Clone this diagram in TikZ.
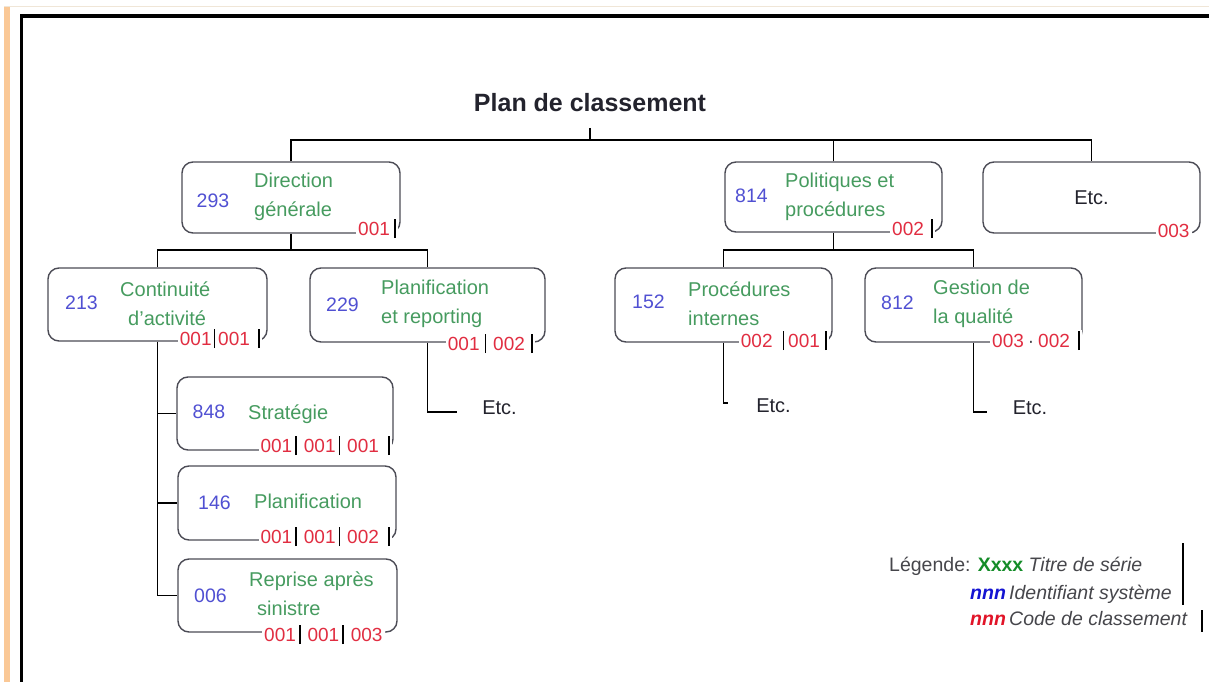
\documentclass[tikz,border=0pt]{standalone}
\usepackage{fontspec}
\setmainfont{Liberation Sans}

\definecolor{titregreen}{RGB}{70,155,95}
\definecolor{numblue}{RGB}{80,80,210}
\definecolor{codered}{RGB}{225,45,65}
\definecolor{boxgray}{RGB}{75,75,85}
\definecolor{textdark}{RGB}{35,35,45}
\definecolor{legray}{RGB}{70,70,75}
\definecolor{legreen}{RGB}{20,140,40}
\definecolor{leblue}{RGB}{20,20,210}
\definecolor{lered}{RGB}{225,20,40}
\definecolor{bandorange}{RGB}{250,200,150}
\definecolor{bandbeige}{RGB}{240,230,215}

\newcommand{\cbar}{{\color{black}\rule[-2.5pt]{1.6pt}{19pt}}}

\tikzset{
  titre/.style={text=textdark, anchor=base, font=\fontsize{25}{30}\selectfont\bfseries},
  serie/.style={draw=boxgray, line width=1.4pt, rounded corners=11pt, minimum width=218pt, minimum height=73pt, inner sep=0pt, text=textdark, font=\fontsize{20}{24}\selectfont},
  numero/.style={text=numblue, inner sep=0pt, font=\fontsize{19.5}{22}\selectfont},
  libelle/.style={text=titregreen, inner sep=0pt, anchor=west, align=left, font=\fontsize{20}{29}\selectfont},
  cote/.style={text=codered, fill=white, inner xsep=2pt, inner ysep=1pt, anchor=base east, font=\fontsize{19}{22}\selectfont},
  lien/.style={draw=black, line width=1.3pt},
  suite/.style={text=textdark, inner sep=0pt, font=\fontsize{20}{24}\selectfont},
  legende/.style={text=legray, inner sep=0pt, anchor=base west, font=\fontsize{19.5}{22}\selectfont}
}

\begin{document}
\begin{tikzpicture}[x=1pt,y=-1pt]
\useasboundingbox (0,0) rectangle (1209,682);
\draw[bandbeige, line width=1pt] (4,7) -- (1209,7);
\fill[bandorange] (4,7) rectangle (10,682);
\draw[line width=3.5pt] (1209,16) -- (21.5,16) -- (21.5,682);

\node[titre] (titre) at (590,112) {Plan de classement};
\coordinate (bus) at (590,140);
\coordinate (busg) at (291,250);
\coordinate (busd) at (833.5,250);

\node[serie, minimum height=71pt] (dg) at (291,197.5) {};
\node[serie, minimum width=217pt, minimum height=70pt] (pp) at (833.5,197) {};
\node[serie, minimum width=217pt, minimum height=71pt] (etc) at (1091.5,197.5) {Etc.};
\node[serie, minimum width=219pt] (ca) at (157.5,304.5) {};
\node[serie, minimum width=235pt, minimum height=74pt] (pr) at (427.5,305) {};
\node[serie, minimum width=217pt, minimum height=74pt] (pi) at (723.5,305) {};
\node[serie, minimum width=217pt, minimum height=74pt] (gq) at (973.5,305) {};
\node[serie, minimum width=216pt] (st) at (285,413.5) {};
\node[serie, minimum height=74pt] (pl) at (287,503) {};
\node[serie, minimum width=219pt] (rs) at (287.5,595.5) {};

\node[suite] (suite1) at (499.5,408) {Etc.};
\node[suite] (suite2) at (773.5,406) {Etc.};
\node[suite] (suite3) at (1030,407.5) {Etc.};

\draw[lien] ([yshift=-12pt]titre.south) -- (bus);
\draw[lien] (dg.north) |- (bus) -| (etc.north);
\draw[lien] (pp.north) -- (pp.north |- bus);
\draw[lien] (dg.south) -- (busg);
\draw[lien] (ca.north) |- (busg) -| (pr.north);
\draw[lien] (pp.south) -- (busd);
\draw[lien] (pi.north) |- (busd) -| (gq.north);
\draw[lien] (ca.south) |- (rs.west);
\draw[lien] (ca.south |- st.west) -- (st.west);
\draw[lien] (ca.south |- pl.west) -- (pl.west);
\draw[lien] (pr.south) |- ([xshift=-25pt,yshift=-4pt]suite1.west);
\draw[lien] (pi.south) |- ([xshift=-28pt,yshift=3pt]suite2.west);
\draw[lien] (gq.south) |- ([xshift=-26pt,yshift=-4.5pt]suite3.west);

\node[numero] (dgn) at (213,201) {293};
\node[numero] (ppn) at (751.5,196) {814};
\node[numero] (can) at (81.5,303) {213};
\node[numero] (prn) at (342.5,305) {229};
\node[numero] (pin) at (648.5,302) {152};
\node[numero] (gqn) at (897.5,303) {812};
\node[numero] (stn) at (209,412) {848};
\node[numero] (pln) at (214.5,503) {146};
\node[numero] (rsn) at (210.5,596) {006};

\node[libelle] (dgl) at (254,197) {Direction\\générale};
\node[libelle] (ppl) at (785,196.5) {Politiques et\\procédures};
\node[libelle] (cal) at (120,304) {Continuité\\\hspace*{8pt}d'activité};
\node[libelle] (prl) at (381,304) {Planification\\et reporting};
\node[libelle] (pil) at (688,304) {Procédures\\internes};
\node[libelle] (gql) at (933,304) {Gestion de\\la qualité};
\node[libelle] (stl) at (248,414) {Stratégie};
\node[libelle] (pll) at (254,501) {Planification};
\node[libelle] (rsl) at (249,594) {Reprise après\\\hspace*{8pt}sinistre};

\node[cote] (dgc) at ([xshift=-3pt,yshift=-2pt]dg.south east) {001\kern4pt\cbar};
\node[cote] (ppc) at ([xshift=-8pt,yshift=-3pt]pp.south east) {002\kern7pt\cbar};
\node[cote] (etcc) at ([xshift=-9pt,yshift=-4pt]etc.south east) {003};
\node[cote] (cac) at ([xshift=-6pt,yshift=-4pt]ca.south east) {001\kern2pt\cbar\kern3pt 001\kern8pt\cbar};
\node[cote] (prc) at ([xshift=-11pt,yshift=-8pt]pr.south east) {001\kern5pt\cbar\kern7pt 002\kern6pt\cbar};
\node[cote] (pic) at ([xshift=-4pt,yshift=-5pt]pi.south east) {002\kern10pt\cbar\kern4pt 001\kern5pt\cbar};
\node[cote] (gqc) at ([xshift=-1pt,yshift=-5pt]gq.south east) {003\kern4pt{\color{legray}·}\kern4pt 002\kern8pt\cbar};
\node[cote] (stc) at ([xshift=-2pt,yshift=-2pt]st.south east) {001\kern3pt\cbar\kern7pt 001\kern3pt\cbar\kern7pt 001\kern9pt\cbar};
\node[cote] (plc) at ([xshift=-5pt,yshift=-3pt]pl.south east) {001\kern3pt\cbar\kern7pt 001\kern3pt\cbar\kern7pt 002\kern9pt\cbar};
\node[cote] (rsc) at ([xshift=-13pt,yshift=-9pt]rs.south east) {001\kern3pt\cbar\kern7pt 001\kern3pt\cbar\kern7pt 003};

\node[legende] (leg1) at (889,571) {Légende: \textcolor{legreen}{\bfseries Xxxx} \textit{Titre de série}};
\node[legende] (leg2) at (970,599) {\textcolor{leblue}{\bfseries\itshape nnn}\,\textit{Identifiant système}};
\node[legende] (leg3) at (970,625) {\textcolor{lered}{\bfseries\itshape nnn}\,\textit{Code de classement}};
\draw[line width=1.5pt] (1183,543) -- (1183,605);
\draw[line width=2.5pt] (1202,610) -- (1202,632);
\end{tikzpicture}
\end{document}
